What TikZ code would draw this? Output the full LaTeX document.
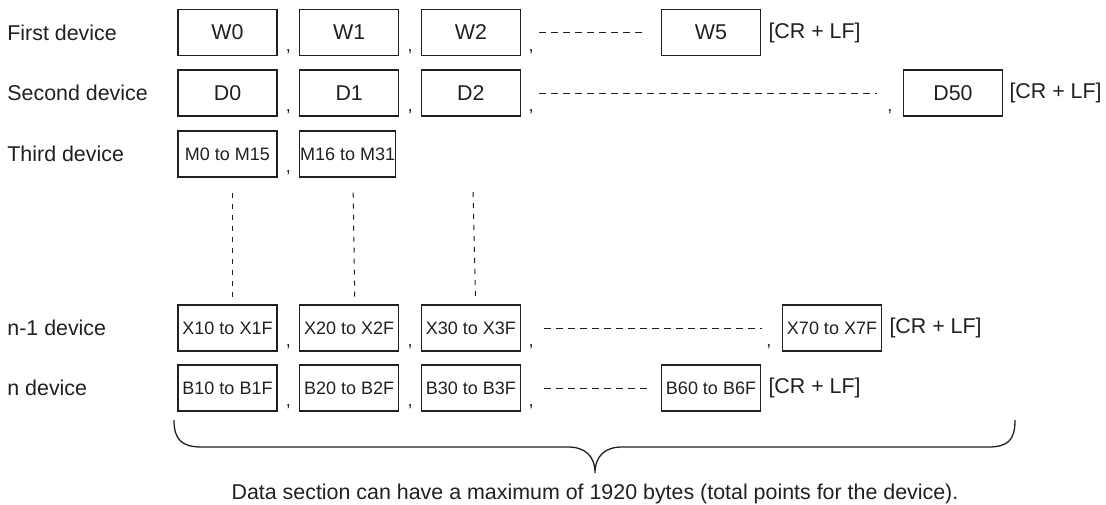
\documentclass[tikz,border=0pt]{standalone}
\usepackage{fontspec}
\setmainfont{Liberation Sans}
\usetikzlibrary{positioning}
\definecolor{ink}{RGB}{35,31,32}
\begin{document}
\begin{tikzpicture}[
        x=0.5pt, y=-0.5pt,
        node distance=10.75pt,
        lbl/.style={anchor=west, inner sep=0pt, text=ink,
                    font=\fontsize{10.7}{12}\selectfont},
        box/.style={draw=ink, line width=0.6pt, text=ink, inner sep=0pt,
                    minimum width=49.5pt, minimum height=23pt,
                    font=\fontsize{10.7}{12}\selectfont},
        smallbox/.style={box, font=\fontsize{9}{11}\selectfont},
        comma/.style={anchor=base, inner sep=0pt, text=ink,
                      font=\fontsize{9}{11}\selectfont},
        crlf/.style={anchor=west, inner sep=0pt, text=ink,
                     font=\fontsize{10.7}{12}\selectfont},
        gap/.style={draw=ink, line width=0.5pt, dash pattern=on 3.5pt off 2.5pt},
        vgap/.style={draw=ink, line width=0.5pt, dash pattern=on 2.5pt off 3pt}
    ]
        \useasboundingbox (0,0) rectangle (1106,504);

        \node[lbl] (first-label) at (7,32.5) {First device};
        \node[box] (w0) at (227.5,32.5) {W0};
        \node[box, right=of w0] (w1) {W1};
        \node[box, right=of w1] (w2) {W2};
        \node[box] (w5) at (711,32.5) {W5};
        \node[crlf, right=3.5pt of w5] (crlf-1) {[CR + LF]};

        \node[lbl] (second-label) at (7,93) {Second device};
        \node[box] (d0) at (227.5,93) {D0};
        \node[box, right=of d0] (d1) {D1};
        \node[box, right=of d1] (d2) {D2};
        \node[box] (d50) at (953,93) {D50};
        \node[crlf, right=3pt of d50] (crlf-2) {[CR + LF]};

        \node[lbl] (third-label) at (7,154) {Third device};
        \node[smallbox] (m0) at (227.5,154) {M0 to M15};
        \node[smallbox, minimum width=48pt, right=of m0] (m1) {M16 to M31};

        \node[lbl] (n1-label) at (7,328) {n-1 device};
        \node[smallbox] (x10) at (227.5,328) {X10 to X1F};
        \node[smallbox, right=of x10] (x20) {X20 to X2F};
        \node[smallbox, right=of x20] (x30) {X30 to X3F};
        \node[smallbox] (x70) at (832,328) {X70 to X7F};
        \node[crlf, right=3.5pt of x70] (crlf-4) {[CR + LF]};

        \node[lbl] (n-label) at (7,388) {n device};
        \node[smallbox] (b10) at (227.5,388) {B10 to B1F};
        \node[smallbox, right=of b10] (b20) {B20 to B2F};
        \node[smallbox, right=of b20] (b30) {B30 to B3F};
        \node[smallbox] (b60) at (711,388) {B60 to B6F};
        \node[crlf, right=3.5pt of b60] (crlf-5) {[CR + LF]};

        \foreach \a/\b in {w0/w1, w1/w2, d0/d1, d1/d2, m0/m1,
                           x10/x20, x20/x30, b10/b20, b20/b30}
            \path ([yshift=2.5pt]\a.south east) -- ([yshift=2.5pt]\b.south west)
                node[comma, midway] (c-\a) {,};
        \foreach \a in {w2, d2, x30, b30}
            \node[comma] (c-\a) at ([xshift=5pt,yshift=2.5pt]\a.south east) {,};
        \node[comma] (c-d50) at ([xshift=-6.5pt,yshift=2.5pt]d50.south west) {,};
        \node[comma] (c-x70) at ([xshift=-6.5pt,yshift=2.5pt]x70.south west) {,};

        \draw[gap] ([xshift=9pt]w2.east) -- ([xshift=-7pt]w5.west);
        \draw[gap] ([xshift=9pt]d2.east) -- ([xshift=-13pt]d50.west);
        \draw[gap] ([xshift=11.5pt]x30.east) -- ([xshift=-10pt]x70.west);
        \draw[gap] ([xshift=11.5pt]b30.east) -- ([xshift=-6pt]b60.west);

        \draw[vgap] ([xshift=2.25pt,yshift=-7.5pt]m0.south) -- ([xshift=2.25pt,yshift=3.5pt]x10.north);
        \draw[vgap] ([xshift=2.75pt,yshift=-7.5pt]m1.south) -- ([xshift=2.75pt,yshift=3.5pt]x20.north);
        \coordinate (gap-top) at (473,192);
        \draw[vgap] (gap-top) -- ([xshift=2.25pt,yshift=3.5pt]x30.north);

        \draw[ink, line width=0.65pt] (174,420) .. controls (174,440) and (182,447) .. (202,447)
            -- (568,447) .. controls (585,447) and (595,456) .. (595,473)
            .. controls (595,456) and (605,447) .. (622,447)
            -- (988,447) .. controls (1008,447) and (1015,440) .. (1015,420);

        \node[anchor=base, inner sep=0pt, text=ink, font=\fontsize{10.7}{12}\selectfont]
            (note) at (595,499) {Data section can have a maximum of 1920 bytes (total points for the device).};
    \end{tikzpicture}
\end{document}
